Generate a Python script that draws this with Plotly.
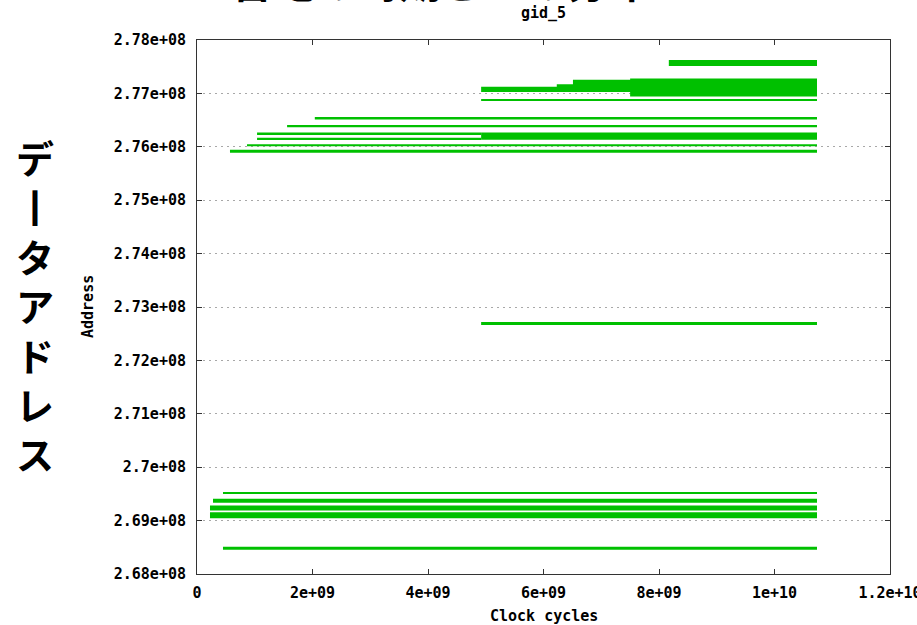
import plotly.graph_objects as go

# ---- data ----
# each access band: start cycle, end cycle, centre address, address extent
seg_start = [8.17e9, 4.92e9, 6.23e9, 6.51e9, 7.50e9, 4.92e9, 2.04e9, 1.56e9,
             4.92e9, 1.04e9, 1.04e9, 0.866e9, 0.571e9,
             4.92e9,
             0.45e9, 0.277e9, 0.225e9, 0.225e9, 0.45e9]
seg_end = [1.0736e10] * 9 + [4.92e9, 4.92e9] + [1.0736e10] * 8
seg_addr = [2.775678e8, 2.770755e8, 2.771010e8, 2.771413e8, 2.771112e8,
            2.768764e8, 2.765344e8, 2.763878e8, 2.761999e8, 2.762431e8,
            2.761548e8, 2.760270e8, 2.759181e8,
            2.726918e8,
            2.695163e8, 2.693700e8, 2.692345e8, 2.690992e8, 2.684829e8]
seg_extent = [1.13e5, 9.4e4, 1.45e5, 2.25e5, 3.38e5, 3.8e4, 5.0e4, 4.5e4,
              1.32e5, 4.5e4, 3.2e4, 3.8e4, 5.6e4,
              5.6e4,
              3.8e4, 7.5e4, 9.4e4, 1.13e5, 5.6e4]

y_tickvals = [2.68e8, 2.69e8, 2.70e8, 2.71e8, 2.72e8, 2.73e8, 2.74e8,
              2.75e8, 2.76e8, 2.77e8, 2.78e8]
y_ticktext = ["2.68e+08", "2.69e+08", "2.7e+08", "2.71e+08", "2.72e+08",
              "2.73e+08", "2.74e+08", "2.75e+08", "2.76e+08", "2.77e+08",
              "2.78e+08"]
x_tickvals = [0, 2e9, 4e9, 6e9, 8e9, 1e10, 1.2e10]
x_ticktext = ["0", "2e+09", "4e+09", "6e+09", "8e+09", "1e+10", "1.2e+10"]

title_text = "gid_5"
x_title = "Clock cycles"
y_title = "Address"
side_label = "デ<br>丨<br>タ<br>ア<br>ド<br>レ<br>ス"
top_label = "番地の時期ごとの分布"

GREEN = "#00c000"
MONO = "DejaVu Sans Mono"

fig = go.Figure()
fig.add_trace(go.Bar(
    orientation="h",
    base=seg_start,
    x=[e - s for s, e in zip(seg_start, seg_end)],
    y=seg_addr,
    width=seg_extent,
    marker=dict(color=GREEN, line=dict(width=0)),
    showlegend=False,
    hoverinfo="skip",
))

axis_common = dict(
    showline=True, linecolor="#333333", linewidth=1, mirror="ticks",
    ticks="inside", ticklen=5, tickcolor="#333333", tickwidth=1,
    zeroline=False, ticklabeloverflow="allow", automargin=False,
    tickfont=dict(family=MONO, size=15, color="#000000", weight="bold"),
)

fig.update_xaxes(
    range=[0, 1.2e10], tickvals=x_tickvals, ticktext=x_ticktext,
    showgrid=False, ticklabelstandoff=5, **axis_common)
fig.update_yaxes(
    range=[2.68e8, 2.78e8], tickvals=y_tickvals, ticktext=y_ticktext,
    showgrid=True, gridcolor="#a8a8a8", gridwidth=1, griddash="2px,4px",
    ticklabelstandoff=7, **axis_common)

fig.update_layout(
    width=917, height=625,
    margin=dict(l=197, r=27, t=40, b=51, autoexpand=False),
    paper_bgcolor="white", plot_bgcolor="white",
    barmode="overlay",
    annotations=[
        dict(text=title_text, xref="paper", yref="paper", x=0.5, y=1.0,
             xanchor="center", yanchor="middle", yshift=27, showarrow=False,
             font=dict(family=MONO, size=15, color="#000", weight="bold")),
        dict(text=x_title, xref="paper", yref="paper", x=0.5, y=0.0,
             xanchor="center", yanchor="middle", yshift=-42, showarrow=False,
             font=dict(family=MONO, size=15, color="#000", weight="bold")),
        dict(text=y_title, xref="paper", yref="paper", x=0.0, y=0.5,
             xanchor="center", yanchor="middle", xshift=-109, textangle=-90,
             showarrow=False,
             font=dict(family=MONO, size=15, color="#000", weight="bold")),
        dict(text=side_label, xref="paper", yref="paper", x=0.0, y=0.5,
             xanchor="center", yanchor="middle", xshift=-162, yshift=3,
             showarrow=False,
             font=dict(family="Noto Sans CJK JP", size=38, color="#000",
                       weight="bold")),
        dict(text=top_label, xref="paper", yref="paper", x=0.5, y=1.0,
             xanchor="center", xshift=-103, yshift=28, yanchor="bottom",
             showarrow=False,
             font=dict(family="Noto Sans CJK JP", size=42, color="#000",
                       weight="bold")),
    ],
)

fig.write_html("out.html",
               config={"displayModeBar": False},
               post_script="document.body.style.margin='0';"
                           "document.body.style.overflow='hidden';")
